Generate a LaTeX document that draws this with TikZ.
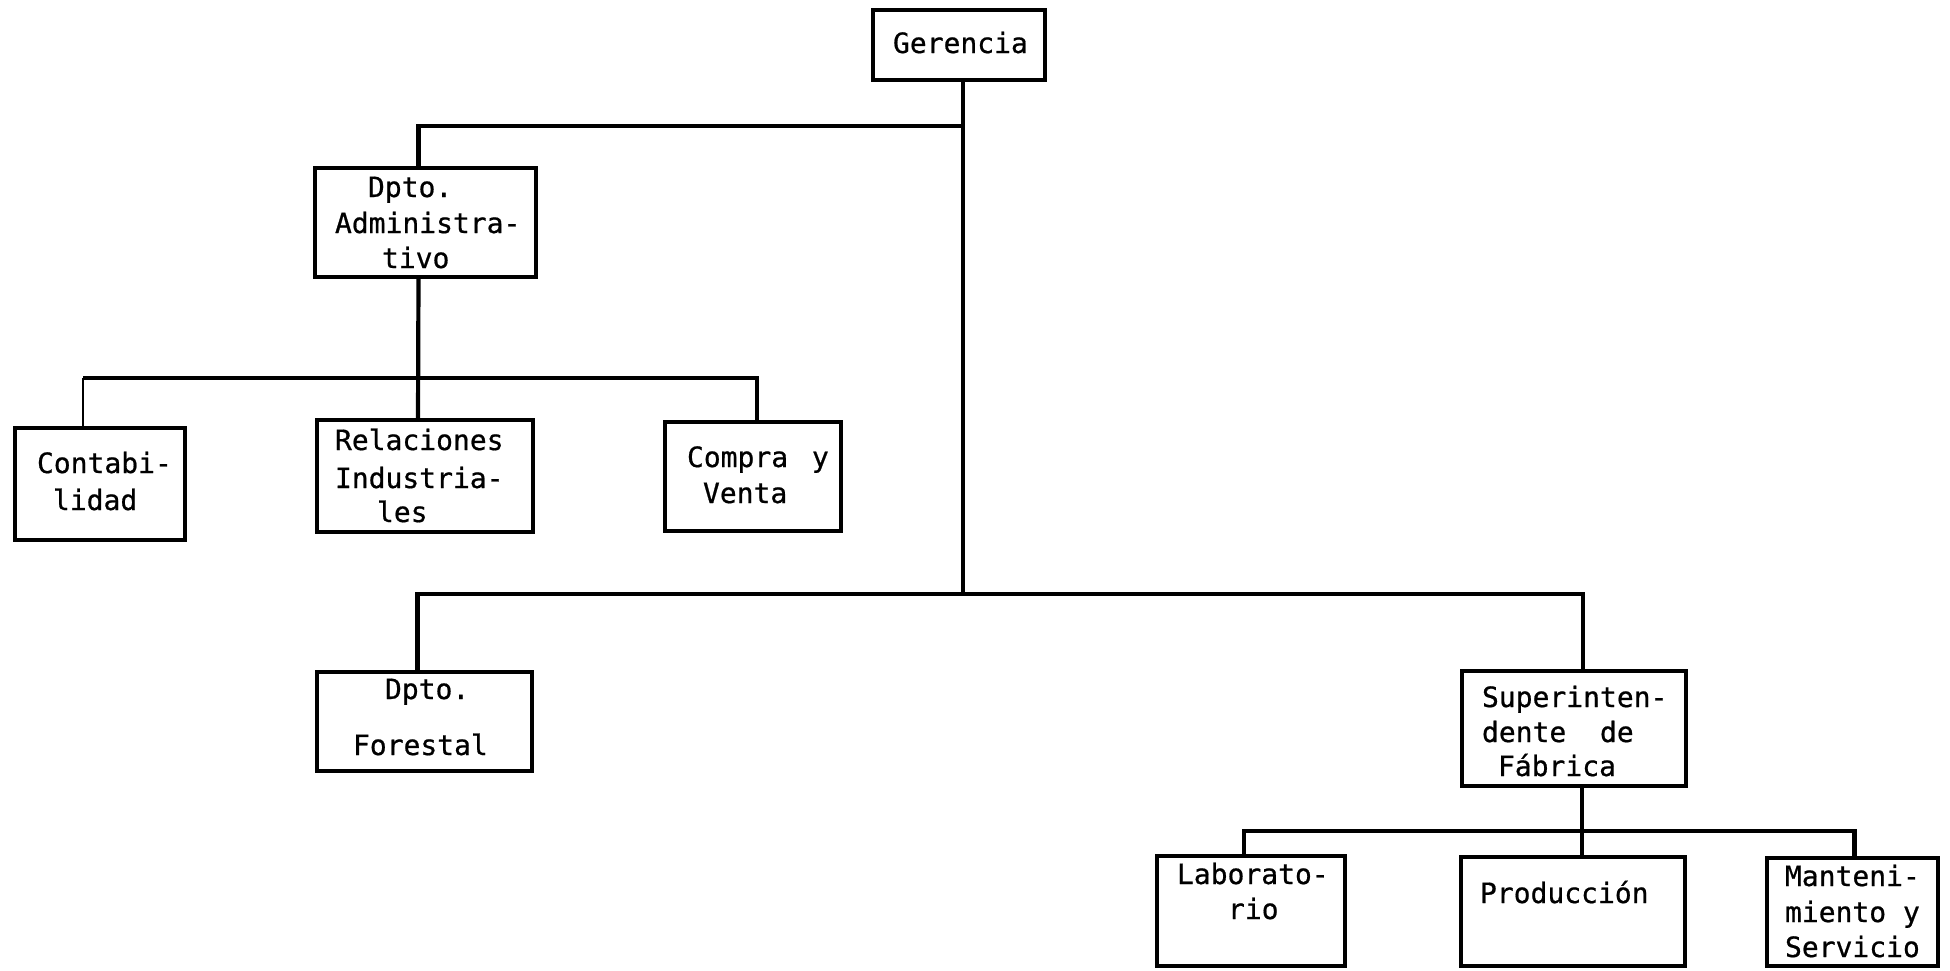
\documentclass[tikz,border=0pt]{standalone}
\usepackage{fontspec}
\setmainfont{DejaVu Sans Mono}
\newfontfamily\orgfont[FakeBold=0.7]{DejaVu Sans Mono}
\usetikzlibrary{calc}
\tikzset{
  x=0.5pt, y=-0.5pt,
  box/.style={draw, line width=2.2pt, inner sep=0pt, outer sep=0pt},
  conn/.style={line width=2.1pt},
  thinconn/.style={line width=1.2pt},
  lbl/.style={anchor=base west, inner sep=0pt, outer sep=0pt,
    font=\orgfont\fontsize{14pt}{17pt}\selectfont},
}
% \orgbox{name}{left}{top}{right}{bottom}
\newcommand\orgbox[5]{%
  \node[box, minimum width={(#4-#2)*0.5pt}, minimum height={(#5-#3)*0.5pt}]
    (#1) at ({(#2+#4)/2},{(#3+#5)/2}) {};}
\begin{document}
\begin{tikzpicture}
\useasboundingbox (0,0) rectangle (1950,970);

% boxes
\orgbox{ger}{873}{10}{1045}{80}
\orgbox{adm}{315}{168}{536}{277}
\orgbox{con}{15}{428}{185}{540}
\orgbox{rel}{317}{420}{533}{532}
\orgbox{com}{665}{422}{841}{531}
\orgbox{for}{317}{672}{532}{771}
\orgbox{sup}{1462}{671}{1686}{786}
\orgbox{lab}{1157}{856}{1345}{966}
\orgbox{pro}{1461}{857}{1685}{966}
\orgbox{man}{1767}{858}{1938}{966}

% box labels
\node[lbl] (ger-t) at (893,53) {Gerencia};
\node[lbl] (adm-t1) at (368,197) {Dpto.};
\node[lbl] (adm-t2) at (335,233) {Administra-};
\node[lbl] (adm-t3) at (382,268) {tivo};
\node[lbl] (con-t1) at (37,473) {Contabi-};
\node[lbl] (con-t2) at (53,510) {lidad};
\node[lbl] (rel-t1) at (335,450) {Relaciones};
\node[lbl] (rel-t2) at (335,488) {Industria-};
\node[lbl] (rel-t3) at (377,522) {les};
\node[lbl] (com-t1) at (687,467) {Compra\hspace{0.85em}y};
\node[lbl] (com-t2) at (703,503) {Venta};
\node[lbl] (for-t1) at (385,699) {Dpto.};
\node[lbl] (for-t2) at (353,755) {Forestal};
\node[lbl] (sup-t1) at (1482,707) {Superinten-};
\node[lbl] (sup-t2) at (1482,742) {dente\ \ de};
\node[lbl] (sup-t3) at (1498,776) {Fábrica};
\node[lbl] (lab-t1) at (1177,884) {Laborato-};
\node[lbl] (lab-t2) at (1228,919) {rio};
\node[lbl] (pro-t) at (1480,903) {Producción};
\node[lbl] (man-t1) at (1785,886) {Manteni-};
\node[lbl] (man-t2) at (1785,922) {miento y};
\node[lbl] (man-t3) at (1785,957) {Servicio};

% bus levels
\coordinate (topbus) at (0,126);
\coordinate (midbus) at (0,378);
\coordinate (lowbus) at (0,594);
\coordinate (subbus) at (0,831);

% attachment points on the boxes
\coordinate (gs)  at ($(ger.south)+(4,0)$);
\coordinate (an)  at ($(adm.north)+(-7,0)$);
\coordinate (as)  at ($(adm.south)+(-7,0)$);
\coordinate (rn)  at ($(rel.north)+(-7,0)$);
\coordinate (cn)  at ($(con.north)+(-17,0)$);
\coordinate (cmn) at ($(com.north)+(4,0)$);
\coordinate (fn)  at ($(for.north)+(-7,0)$);
\coordinate (sn)  at ($(sup.north)+(9,0)$);
\coordinate (ss)  at ($(sup.south)+(8,0)$);
\coordinate (pn)  at ($(pro.north)+(9,0)$);
\coordinate (ln)  at ($(lab.north)+(-7,0)$);
\coordinate (mn)  at ($(man.north)+(2,0)$);

% Gerencia trunk and its branches
\draw[conn] (gs) -- (gs |- lowbus);
\draw[conn] (an) |- (gs |- topbus);
\draw[conn] (fn) |- (sn |- lowbus) -- (sn);

% administrative department
\draw[conn] (as) -- (rn);
\draw[thinconn] (cn) -- (cn |- midbus);
\draw[conn] (cn |- midbus) -- (cmn |- midbus) -- (cmn);

% factory superintendent
\draw[conn] (ss) -- (pn);
\draw[conn] (ln) |- (mn |- subbus) -- (mn);
\end{tikzpicture}
\end{document}
